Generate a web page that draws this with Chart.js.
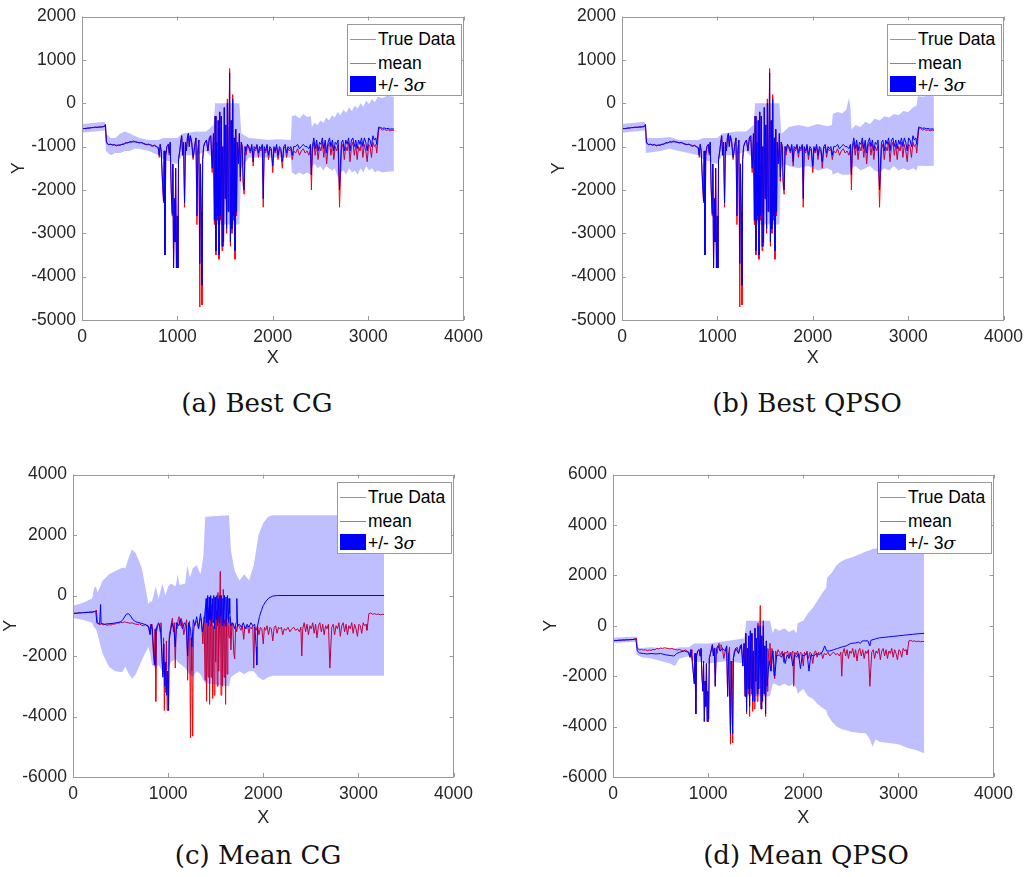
<!DOCTYPE html>
<html>
<head>
<meta charset="utf-8">
<script src="https://cdn.jsdelivr.net/npm/chart.js@4.4.1/dist/chart.umd.min.js"></script>
<style>
  body { margin: 0; background: #fff; }
  #page { position: relative; width: 1032px; height: 877px; overflow: hidden; font-family: "Liberation Sans", Arial, sans-serif; }
  .panel { position: absolute; }
  .legend { position: absolute; border: 1px solid #9a9a9a; background: #fff; font-size: 17.5px; color: #000; box-sizing: border-box; }
  .legend .row { position: absolute; left: 0; right: 0; height: 22px; }
  .legend .sample { position: absolute; left: 2px; width: 26px; }
  .legend .label { position: absolute; left: 30px; top: 0; line-height: 22px; white-space: nowrap; }
  .caption { position: absolute; font-family: "DejaVu Serif", "Liberation Serif", serif; font-size: 26px; transform: translateX(-50%); white-space: nowrap; color: #111; }
</style>
</head>
<body>
<div id="page">
  <canvas id="chartA" class="panel" width="490" height="372" style="left:0px;top:0px"></canvas>
  <canvas id="chartB" class="panel" width="490" height="372" style="left:540px;top:0px"></canvas>
  <canvas id="chartC" class="panel" width="480" height="372" style="left:0px;top:458px"></canvas>
  <canvas id="chartD" class="panel" width="490" height="372" style="left:530px;top:458px"></canvas>
  <div class="caption" style="left:257px;top:388px">(a) Best CG</div>
  <div class="caption" style="left:807px;top:388px">(b) Best QPSO</div>
  <div class="caption" style="left:258px;top:840px">(c) Mean CG</div>
  <div class="caption" style="left:806px;top:840px">(d) Mean QPSO</div>
</div>
<script>
// ---- true data (same series in all four panels) ----
const trueX = [
  0,20,40,60,80,100,120,140,160,180,
  200,220,240,246,256,266,280,300,320,340,
  360,380,400,420,440,460,480,500,520,540,
  560,580,600,620,640,660,680,700,720,740,
  760,780,800,
  810,820,830,845,855,862,870,878,890,905,
  915,925,935,945,952,960,968,975,982,990,
  998,1005,1012,1025,1035,1045,1055,1065,1075,1085,
  1095,1105,1115,1125,1135,1150,1165,1180,1195,1205,
  1215,1225,1235,1242,1250,1258,1265,1275,1290,1305,
  1320,1335,1350,1365,1378,1388,1396,1404,1412,1420,
  1428,1436,1444,1452,1460,1468,1476,1484,1492,1500,
  1508,1516,1524,1532,1540,1548,1556,1564,1572,1580,
  1588,1596,1604,1612,1620,1628,1640,1650,1660,1670,
  1680,1690,1700,1710,1720,1735,
  1750,1765,1780,1795,1805,1820,1835,1850,1862,1875,
  1890,1900,1910,1925,1940,1955,1970,1985,2000,2012,
  2025,2040,2055,2070,2085,2100,2115,2130,2145,2160,
  2175,2190,2205,2220,2240,2260,2280,2300,2320,2340,
  2360,2380,2395,2405,2415,2430,2445,2460,2475,2490,
  2505,2520,2535,2550,2565,2580,2595,2610,2625,2640,
  2655,2670,2685,2700,2710,2720,2735,2750,2765,2780,
  2795,2810,2825,2840,2855,2870,2885,2900,2915,2930,
  2945,2960,2975,2990,3005,3020,3035,3050,3065,3080,
  3090,3100,3110,3130,3150,3170,3190,3210,3230,3250,
  3270
];
const trueY = [
  -600,-580,-590,-570,-575,-560,-565,-550,-560,-545,
  -550,-540,-520,-480,-880,-930,-960,-940,-970,-950,
  -990,-960,-980,-940,-950,-900,-920,-880,-900,-870,
  -890,-900,-920,-900,-930,-950,-960,-940,-980,-1000,
  -960,-1010,-1050,
  -1250,-950,-1100,-1900,-2300,-1100,-3500,-1200,-1000,-950,
  -1200,-900,-2000,-2600,-1400,-3800,-2200,-3200,-1500,-3800,
  -2600,-3800,-1300,-1100,-900,-750,-1200,-900,-2400,-900,
  -1100,-800,-700,-1000,-750,-900,-1300,-1000,-800,-2800,
  -1100,-850,-4700,-1400,-2500,-4650,-1300,-1000,-900,-850,
  -1100,-800,-750,-1600,-700,-2800,-300,-3500,-900,-2700,
  -400,-3600,-200,-2700,-300,-3400,-1000,-3300,-100,-2200,
  -500,-3000,100,-2500,-1000,800,-3300,-400,-3000,200,
  -2700,-800,-3600,-600,-2600,-900,-1400,-700,-1800,-900,
  -1000,-1900,-2100,-1000,-1200,-950,
  -1050,-1150,-1000,-1450,-1050,-1100,-1000,-1250,-1050,-1100,
  -1000,-2400,-1050,-1150,-1000,-1300,-1050,-1100,-1600,-1050,
  -1150,-1000,-1300,-1050,-1100,-1500,-1050,-1000,-1250,-1050,
  -1100,-1050,-1300,-1100,-1150,-1050,-1200,-1100,-1050,-1150,
  -1100,-1200,-1050,-2000,-1100,-900,-1200,-950,-1300,-1000,
  -1100,-900,-1250,-950,-1400,-1000,-900,-1200,-950,-1300,
  -1000,-1100,-950,-2400,-1700,-1050,-950,-1300,-1000,-1100,
  -900,-1350,-1000,-900,-1200,-950,-1300,-1000,-1100,-900,
  -1250,-950,-1100,-1350,-950,-1000,-1250,-900,-1000,-950,
  -1150,-900,-600,-580,-620,-600,-630,-610,-640,-620,
  -630
];

// ---- mean of the best runs (a, b), on the trueX grid ----
const meanBestY = [
  -590,-585,-580,-575,-570,-565,-560,-555,-555,-550,
  -548,-545,-530,-500,-900,-940,-950,-950,-960,-960,
  -970,-970,-960,-950,-940,-920,-910,-900,-890,-890,
  -890,-900,-910,-910,-920,-940,-950,-950,-960,-980,
  -980,-1000,-1020,
  -1200,-950,-1100,-1850,-2250,-1100,-3500,-1200,-1000,-950,
  -1150,-900,-1950,-2550,-1400,-3800,-2200,-3200,-1500,-3800,
  -2600,-3800,-1300,-1100,-900,-750,-1200,-900,-2300,-900,
  -1100,-800,-700,-1000,-750,-900,-1250,-1000,-800,-2600,
  -1100,-850,-3700,-1400,-2500,-4200,-1300,-1000,-900,-850,
  -1100,-800,-750,-1500,-700,-2700,-300,-3400,-900,-2600,
  -400,-3500,-200,-2600,-300,-3300,-1000,-3200,-100,-2200,
  -500,-2900,0,-2500,-1000,700,-3200,-400,-2900,100,
  -2600,-800,-3400,-600,-2500,-900,-1400,-700,-1700,-900,
  -1000,-1800,-2000,-1000,-1100,-950,
  -1000,-1100,-950,-1350,-1000,-1050,-950,-1150,-1000,-1050,
  -950,-2200,-1000,-1100,-950,-1200,-1000,-1050,-1450,-1000,
  -1100,-950,-1200,-1000,-1050,-1350,-1000,-950,-1150,-1000,
  -1050,-1000,-1200,-1000,-1000,-950,-1050,-1000,-950,-1000,
  -1000,-1050,-950,-1650,-1000,-800,-1050,-850,-1100,-900,
  -950,-800,-1050,-850,-1150,-900,-800,-1000,-850,-1100,
  -900,-950,-850,-2000,-1400,-900,-850,-1100,-850,-950,
  -800,-1100,-850,-800,-1000,-850,-1050,-850,-950,-800,
  -1000,-800,-900,-1100,-800,-850,-1000,-750,-850,-800,
  -950,-750,-550,-560,-580,-570,-590,-580,-600,-590,
  -600
];

// ---- mean of CG runs (c) ----
const meanCgX = [
  0,50,100,150,200,240,250,280,290,295,
  330,380,420,460,500,520,560,580,600,630,
  660,700,750,790,810,820,835,850,862,870,
  885,900,920,935,945,955,965,975,985,995,
  1003,1010,1025,1040,1060,1075,1090,1110,1130,1150,
  1170,1190,1205,1215,1235,1250,1265,1280,1300,1320,
  1340,1360,1380,1395,1400,1408,1416,1424,1432,1440,
  1448,1456,1464,1472,1480,1488,1496,1504,1512,1520,
  1528,1536,1544,1552,1560,1568,1576,1584,1592,1600,
  1608,1616,1624,1632,1640,1648,1660,1680,1700,1715,
  1722,1730,1750,1770,1790,1810,1830,1850,1870,1890,
  1910,1925,1932,1940,1960,1980,2000,2030,2060,2100,
  2150,3270
];
const meanCgY = [
  -600,-580,-570,-560,-550,-520,-900,-950,-300,-920,
  -950,-930,-920,-900,-870,-820,-620,-600,-650,-800,
  -870,-900,-950,-1000,-1300,-950,-1100,-2000,-2300,-1200,
  -1000,-900,-1100,-2000,-2700,-1600,-3000,-2200,-3300,-2500,
  -3800,-1500,-1200,-900,-1100,-1700,-900,-1000,-800,-1100,
  -900,-1000,-2000,-900,-1100,-1700,-800,-1000,-700,-1100,
  -600,-1200,-800,-300,-100,-900,0,-1000,-50,-800,
  0,-1000,-100,-900,0,-1100,-50,-800,0,-1000,
  -100,-900,0,-700,0,-1000,-100,-900,0,-1000,
  -50,-800,0,-900,-100,-600,-1000,-900,-1100,-900,
  -100,-1000,-950,-1050,-900,-1100,-950,-1050,-900,-1000,
  -950,-1700,-2300,-1000,-700,-500,-330,-180,-80,-20,
  0,0
];

// ---- mean of QPSO runs (d) ----
const meanQpsoX = [
  0,50,100,150,200,240,255,280,320,360,
  400,450,500,550,600,640,670,700,750,790,
  810,820,845,855,862,870,878,890,905,915,
  925,935,945,952,960,968,975,982,990,998,
  1005,1012,1025,1045,1055,1065,1075,1085,1105,1125,
  1150,1180,1195,1205,1215,1235,1242,1258,1265,1290,
  1320,1350,1365,1378,1388,1396,1404,1412,1420,1428,
  1436,1444,1452,1460,1468,1476,1484,1492,1500,1508,
  1516,1524,1532,1540,1548,1556,1564,1572,1580,1588,
  1596,1604,1612,1620,1640,1660,1680,1700,1720,1750,
  1770,1790,1810,1830,1850,1870,1890,1910,1930,1950,
  1970,1990,2010,2040,2060,2080,2110,2140,2170,2200,
  2225,2245,2280,2320,2360,2400,2450,2500,2550,2580,
  2600,2620,2680,2700,2710,2760,2800,2850,2900,2950,
  3000,3050,3100,3150,3200,3270
];
const meanQpsoY = [
  -600,-580,-570,-560,-550,-520,-1000,-1080,-1100,-1120,
  -1100,-1120,-1100,-1150,-1180,-1200,-1100,-1050,-1000,-1050,
  -1250,-950,-1900,-2300,-1100,-3500,-1200,-1000,-950,-1200,
  -900,-2000,-2600,-1400,-3800,-2200,-3200,-1500,-3800,-2600,
  -3700,-1300,-1100,-750,-1200,-900,-2400,-900,-800,-1000,
  -900,-1000,-800,-2800,-1100,-4300,-1400,-4300,-1300,-900,
  -1100,-750,-1600,-700,-2800,-300,-3400,-900,-2500,-400,
  -3200,-200,-2500,-300,-3000,-1000,-3000,-100,-2200,-500,
  -2700,0,-2500,-1000,0,-3300,-400,-3000,0,-2700,
  -800,-3500,-600,-2400,-1400,-1800,-1000,-2000,-1200,-1150,
  -1250,-1100,-1500,-1150,-1300,-1100,-1600,-1150,-1250,-1100,
  -1700,-1150,-1200,-1100,-1800,-1150,-1200,-1100,-1150,-1050,
  -800,-1000,-1000,-950,-900,-850,-800,-700,-680,-650,
  -700,-600,-600,-800,-580,-520,-480,-460,-440,-420,
  -400,-380,-360,-340,-320,-300
];

// ---- +/- 3 sigma bands ----
const bandAX = [
  0,240,250,300,350,400,450,500,550,600,
  700,800,850,1000,1050,1200,1300,1380,1395,1650,
  1670,1750,1850,1950,2050,2190,2200,2240,2280,2320,
  2360,2400,2410,2440,2470,2500,2530,2560,2590,2620,
  2650,2680,2710,2740,2770,2800,2830,2860,2890,2920,
  2950,2980,3010,3040,3070,3100,3150,3200,3270
];
const bandAUp = [
  -480,-430,-700,-800,-800,-700,-650,-700,-750,-800,
  -850,-850,-800,-800,-700,-650,-650,-500,0,0,
  -700,-800,-820,-850,-830,-850,-300,-280,-350,-250,
  -320,-300,-550,-450,-500,-400,-450,-330,-400,-280,
  -330,-200,-280,-150,-220,-100,-180,-50,-120,0,
  -80,60,-20,100,20,150,120,170,150
];
const bandALo = [
  -680,-630,-1100,-1200,-1150,-1150,-1100,-1100,-1050,-1050,
  -1100,-1200,-1300,-1400,-1200,-1200,-1100,-1300,-2800,-2800,
  -1500,-1250,-1250,-1250,-1250,-1250,-1600,-1650,-1600,-1650,
  -1600,-1650,-1450,-1400,-1500,-1450,-1550,-1450,-1500,-1550,
  -1500,-1700,-1600,-1550,-1650,-1500,-1600,-1550,-1650,-1500,
  -1600,-1450,-1550,-1500,-1600,-1550,-1600,-1580,-1570
];

const bandBX = [
  0,240,250,400,500,600,800,850,1000,1050,
  1200,1300,1380,1395,1650,1670,1700,1750,1850,1950,
  2050,2150,2200,2210,2260,2310,2350,2380,2395,2405,
  2450,2500,2550,2600,2650,2700,2750,2800,2850,2900,
  2950,3000,3050,3090,3100,3150,3200,3270
];
const bandBUp = [
  -480,-430,-800,-800,-780,-850,-850,-800,-800,-700,
  -650,-650,-500,0,0,-700,-650,-550,-500,-550,
  -480,-530,-500,-250,-200,-230,-150,120,-100,-600,
  -500,-550,-430,-480,-350,-400,-300,-330,-250,-280,
  -180,-200,-100,-50,160,150,170,160
];
const bandBLo = [
  -680,-630,-1150,-1100,-1050,-1100,-1200,-1300,-1400,-1200,
  -1200,-1100,-1300,-2800,-2800,-1500,-1400,-1450,-1500,-1450,
  -1550,-1500,-1550,-1650,-1600,-1650,-1650,-1650,-1600,-1500,
  -1450,-1550,-1500,-1450,-1550,-1600,-1500,-1550,-1450,-1550,
  -1500,-1550,-1500,-1550,-1450,-1440,-1450,-1440
];

const bandCX = [
  0,100,200,224,240,260,310,380,445,517,
  550,580,620,660,723,760,792,810,830,870,
  900,940,970,1000,1030,1080,1100,1120,1180,1200,
  1230,1260,1300,1340,1370,1390,1640,1660,1700,1750,
  1800,1850,1900,1950,2000,2050,2100,3270
];
const bandCUp = [
  -340,-250,-100,260,300,100,480,700,810,920,
  900,1200,1530,1400,910,300,-280,-200,-200,300,
  -100,400,0,300,400,300,700,350,400,1000,
  600,900,1000,700,1300,2600,2650,1500,800,500,
  700,500,1000,2000,2400,2600,2650,2650
];
const bandCLo = [
  -740,-800,-900,-1070,-1100,-1300,-1920,-2360,-2500,-2540,
  -2350,-2550,-2750,-2600,-2150,-1900,-1700,-1900,-2300,-2400,
  -2300,-2500,-2600,-2400,-2200,-2100,-2200,-2250,-2400,-2500,
  -2600,-2700,-2500,-2600,-2800,-2900,-3000,-2700,-2600,-2500,
  -2600,-2500,-2500,-2700,-2800,-2700,-2650,-2650
];

const bandDX = [
  0,240,250,300,400,500,600,650,700,800,
  850,1000,1200,1380,1400,1650,1680,1700,1750,1800,
  1850,1900,1930,1940,2000,2050,2100,2150,2200,2240,
  2250,2300,2350,2400,2450,2500,2600,2656,2700,2728,
  2760,2800,2900,3000,3100,3200,3270
];
const bandDUp = [
  -480,-430,-850,-880,-850,-880,-900,-900,-850,-850,
  -700,-700,-600,-500,200,200,-300,-100,-200,-100,
  -250,-150,-300,100,200,500,700,1000,1300,1500,
  1900,2100,2400,2550,2650,2700,2850,2950,3000,3050,
  3050,3150,3300,3400,3500,3600,3650
];
const bandDLo = [
  -680,-630,-1150,-1250,-1300,-1400,-1500,-1600,-1300,-1200,
  -1400,-1500,-1400,-1500,-2800,-2800,-2300,-2300,-2400,-2300,
  -2400,-2300,-2500,-2700,-2500,-2800,-2900,-3100,-3250,-3350,
  -3500,-3800,-4000,-4100,-4150,-4200,-4250,-4265,-4500,-4800,
  -4500,-4600,-4650,-4700,-4850,-4950,-5055
];

const xTicks = [0, 1000, 2000, 3000, 4000];

// ---- helpers ----
const pts = (xs, ys) => xs.map((x, i) => ({ x: x, y: ys[i] }));

const TICK_COLOR = "#262626";
const BOX_COLOR = "#9a9a9a";
const tickFont = { family: "Liberation Sans", size: 17.5 };

// box round the axes with inward tick marks on all four sides, like MATLAB
const boxTicks = {
  id: "boxTicks",
  afterDatasetsDraw(chart) {
    const { ctx, chartArea: a, scales } = chart;
    const x = scales.x, y = scales.y;
    ctx.save();
    ctx.strokeStyle = BOX_COLOR;
    ctx.lineWidth = 1;
    ctx.strokeRect(Math.round(a.left) + 0.5, Math.round(a.top) + 0.5,
      Math.round(a.right - a.left) - 1, Math.round(a.bottom - a.top) - 1);
    ctx.beginPath();
    x.ticks.forEach((t) => {
      const px = Math.round(x.getPixelForValue(t.value)) + 0.5;
      ctx.moveTo(px, a.bottom); ctx.lineTo(px, a.bottom - 4);
      ctx.moveTo(px, a.top); ctx.lineTo(px, a.top + 4);
    });
    y.ticks.forEach((t) => {
      const py = Math.round(y.getPixelForValue(t.value)) + 0.5;
      ctx.moveTo(a.left, py); ctx.lineTo(a.left + 4, py);
      ctx.moveTo(a.right, py); ctx.lineTo(a.right - 4, py);
    });
    ctx.stroke();
    ctx.restore();
  }
};

function makePanel(id, cfg) {
  const datasets = [
    { // band upper, filled down to the next dataset (drawn on top, translucent)
      data: pts(cfg.bandX, cfg.bandUp),
      borderWidth: 0, borderColor: "transparent",
      backgroundColor: "rgba(0,0,255,0.25)", fill: "+1", order: 0
    },
    {
      data: pts(cfg.bandX, cfg.bandLo),
      borderWidth: 0, borderColor: "transparent", fill: false, order: 1
    },
    {
      data: pts(cfg.meanX, cfg.meanY),
      borderColor: "rgb(0,0,255)", borderWidth: 1, fill: false, order: 2
    },
    {
      data: pts(trueX, trueY),
      borderColor: "rgb(255,0,0)", borderWidth: 1, fill: false, order: 3
    }
  ];

  return new Chart(document.getElementById(id), {
    type: "line",
    data: { datasets: datasets },
    plugins: [boxTicks],
    options: {
      responsive: false,
      animation: false,
      events: [],
      parsing: false,
      devicePixelRatio: 1,
      layout: { padding: { top: 15, right: 20, left: 0, bottom: 0 } },
      elements: { point: { radius: 0 }, line: { tension: 0 } },
      plugins: { legend: { display: false }, tooltip: { enabled: false } },
      scales: {
        x: {
          type: "linear", min: 0, max: 4000,
          afterBuildTicks: (s) => { s.ticks = xTicks.map((v) => ({ value: v })); },
          afterFit: (s) => { s.height = cfg.xh; },
          grid: { display: false, drawTicks: false },
          border: { display: false },
          ticks: { padding: 7, color: TICK_COLOR, font: tickFont, maxRotation: 0, callback: (v) => String(v) },
          title: { display: true, text: "X", color: TICK_COLOR, font: { family: "Liberation Sans", size: 18 }, padding: { top: 0, bottom: cfg.xtPad } }
        },
        y: {
          type: "linear", min: cfg.yMin, max: cfg.yMax,
          afterBuildTicks: (s) => { s.ticks = cfg.yTicks.map((v) => ({ value: v })); },
          afterFit: (s) => { s.width = cfg.yw; },
          grid: { display: false, drawTicks: false },
          border: { display: false },
          ticks: { padding: 6, color: TICK_COLOR, font: tickFont, callback: (v) => String(v) },
          title: { display: true, text: "Y", color: TICK_COLOR, font: { family: "Liberation Sans", size: 18 }, padding: { top: cfg.ytPad, bottom: 0 } }
        }
      }
    }
  });
}

makePanel("chartA", {
  meanX: trueX, meanY: meanBestY,
  bandX: bandAX, bandUp: bandAUp, bandLo: bandALo,
  yMin: -5000, yMax: 2000, yTicks: [-5000, -4000, -3000, -2000, -1000, 0, 1000, 2000],
  yw: 82, xh: 52, xtPad: 3, ytPad: 8
});
makePanel("chartB", {
  meanX: trueX, meanY: meanBestY,
  bandX: bandBX, bandUp: bandBUp, bandLo: bandBLo,
  yMin: -5000, yMax: 2000, yTicks: [-5000, -4000, -3000, -2000, -1000, 0, 1000, 2000],
  yw: 82, xh: 52, xtPad: 3, ytPad: 8
});
makePanel("chartC", {
  meanX: meanCgX, meanY: meanCgY,
  bandX: bandCX, bandUp: bandCUp, bandLo: bandCLo,
  yMin: -6000, yMax: 4000, yTicks: [-6000, -4000, -2000, 0, 2000, 4000],
  yw: 73, xh: 53, xtPad: 1, ytPad: 0
});
makePanel("chartD", {
  meanX: meanQpsoX, meanY: meanQpsoY,
  bandX: bandDX, bandUp: bandDUp, bandLo: bandDLo,
  yMin: -6000, yMax: 6000, yTicks: [-6000, -4000, -2000, 0, 2000, 4000, 6000],
  yw: 83, xh: 53, xtPad: 1, ytPad: 10
});

// ---- legends (HTML, laid over each axes) ----
const legendLabels = ["True Data", "mean", "+/- 3"];
const legendSampleColors = ["#f07070", "#7878ff", "#0000ff"];
function makeLegend(left, top) {
  const box = document.createElement("div");
  box.className = "legend";
  box.style.left = left + "px";
  box.style.top = top + "px";
  box.style.width = "115px";
  box.style.height = "72px";
  const rowTops = [3, 27, 49];
  legendLabels.forEach((txt, i) => {
    const row = document.createElement("div");
    row.className = "row";
    row.style.top = rowTops[i] + "px";
    const s = document.createElement("div");
    s.className = "sample";
    s.style.background = legendSampleColors[i];
    if (i === 2) {
      s.style.top = "2px"; s.style.height = "16px";
    } else {
      s.style.top = "11px"; s.style.height = "1px";
    }
    const l = document.createElement("div");
    l.className = "label";
    l.textContent = txt;
    if (i === 2) {
      const sig = document.createElement("i");
      sig.style.fontFamily = "\"DejaVu Serif\", serif";
      sig.textContent = "\u03c3";
      l.appendChild(sig);
    }
    row.appendChild(s);
    row.appendChild(l);
    box.appendChild(row);
  });
  document.getElementById("page").appendChild(box);
}
makeLegend(347, 24);
makeLegend(887, 24);
makeLegend(337, 482);
makeLegend(877, 482);
</script>
</body>
</html>
